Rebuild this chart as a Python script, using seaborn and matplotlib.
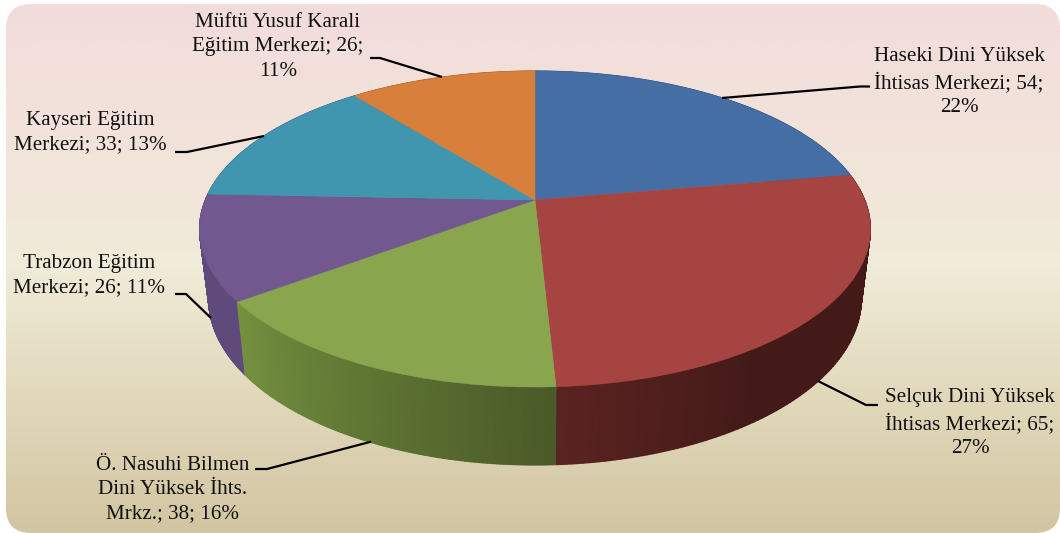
import numpy as np
import matplotlib
matplotlib.use("Agg")
import matplotlib.pyplot as plt
import matplotlib.transforms as mtransforms
from matplotlib.patches import FancyBboxPatch
import seaborn as sns

merkezler = [
    "Haseki Dini Yüksek\nİhtisas Merkezi; 54;\n22%",
    "Selçuk Dini Yüksek\nİhtisas Merkezi; 65;\n27%",
    "Ö. Nasuhi Bilmen\nDini Yüksek İhts.\nMrkz.; 38; 16%",
    "Trabzon Eğitim\nMerkezi; 26; 11%",
    "Kayseri Eğitim\nMerkezi; 33; 13%",
    "Müftü Yusuf Karali\nEğitim Merkezi; 26;\n11%",
]
degerler = [54, 65, 38, 26, 33, 26]

renkler = ["#456fa4", "#a64442", "#89a54e", "#71588f", "#4096ae", "#d77f3b"]
# yan yuzey renkleri: kucuk acidan buyuk aciya
yanRenkler = [
    ["#2a4366", "#2a4366"],
    ["#5a2321", "#431a18", "#431a18", "#431a18"],
    ["#74913f", "#4a5a28"],
    ["#5f4a7b", "#5f4a7b"],
    ["#28606f", "#28606f"],
    ["#8a5226", "#8a5226"],
]
etiketYerleri = [(959, 82), (970, 423), (173, 490), (89, 276), (90, 133), (278, 47)]
kilavuzlar = [
    [(722, 98), (860, 86.5), (870, 86.5)],
    [(818, 381), (866, 405), (878, 405)],
    [(255, 469), (267, 469), (371, 441.7)],
    [(175, 294), (186, 294), (211, 318)],
    [(175, 152), (187, 152), (264, 136)],
    [(370, 58), (380, 58), (442, 77)],
]

sns.set_theme(style="white")
plt.rcParams['font.family'] = ['Liberation Serif', 'DejaVu Serif']

# pastanin perspektif izdusumu
cx, k = 535.0, 0.1835


def izdusum(u, v, cy=200.0, a=329.8, b=152.7):
    payda = 1 + k * v
    return cx + a * u / payda, cy - b * v / payda


class Perspektif(mtransforms.Transform):
    input_dims = 2
    output_dims = 2
    is_separable = False
    has_inverse = False

    def transform_non_affine(self, values):
        values = np.asarray(values)
        x, y = izdusum(values[:, 0], values[:, 1])
        return np.column_stack([x, y])


fig, ax = plt.subplots(figsize=(10.6, 5.33), dpi=100)
fig.subplots_adjust(0, 0, 1, 1)
fig.patch.set_facecolor("white")

dilimler, _ = ax.pie(degerler, colors=sns.color_palette(renkler), startangle=90,
                     counterclock=False, radius=1, frame=False)
ax.set_aspect("auto")
ax.axis("off")

for dilim in dilimler:
    dilim.set_transform(Perspektif() + ax.transData)
    dilim.set_edgecolor(dilim.get_facecolor())
    dilim.set_linewidth(0.4)
    dilim.set_zorder(5)

# arka plan
gradyan = sns.blend_palette(["#f2dcdb", "#f2e3da", "#f0ebd8", "#e1d8bb", "#d2c5a1"], as_cmap=True)
cerceve = FancyBboxPatch((6, 4), 1054, 529, boxstyle="round,pad=0,rounding_size=25",
                         transform=ax.transData, facecolor="none", edgecolor="none")
ax.add_patch(cerceve)
arka = ax.imshow(np.linspace(0, 1, 256).reshape(-1, 1), cmap=gradyan, aspect="auto",
                 extent=(6, 1060, 533, 4), zorder=0, interpolation="bilinear")
arka.set_clip_path(cerceve)

# yan yuzey: once arkadaki dilimler
for dilim, tonlar in sorted(zip(dilimler, yanRenkler),
                            key=lambda d: -np.sin(np.radians((d[0].theta1 + d[0].theta2) / 2))):
    t1, t2 = sorted((dilim.theta1, dilim.theta2))
    acilar = np.radians(np.linspace(t1, t2, 120))
    ustX, ustY = izdusum(np.cos(acilar), np.sin(acilar))
    altX, altY = izdusum(np.cos(acilar), np.sin(acilar), cy=268.0, a=320.9, b=160.9)
    X = np.vstack([ustX, altX])
    Y = np.vstack([ustY, altY])
    C = np.vstack([np.linspace(0, 1, 120)] * 2)
    ax.pcolormesh(X, Y, C, shading="gouraud", zorder=3, vmin=0, vmax=1,
                  cmap=sns.blend_palette(tonlar, as_cmap=True))

for yazi, yer, cizgi in zip(merkezler, etiketYerleri, kilavuzlar):
    ax.text(yer[0], yer[1], yazi, ha="center", va="center", multialignment="center",
            fontsize=15.2, color="#111111", linespacing=1.36, zorder=7)
    ax.plot(*zip(*cizgi), color="black", lw=1.6, zorder=6, solid_capstyle="butt")

ax.set_xlim(0, 1060)
ax.set_ylim(533, 0)
fig.savefig("out.png", dpi=100)
